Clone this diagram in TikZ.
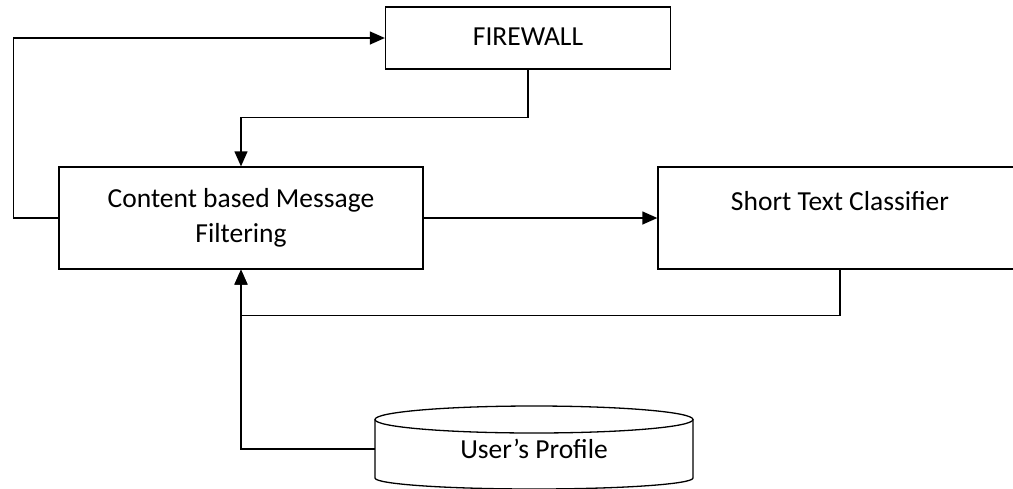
\documentclass[tikz,border=0pt]{standalone}
\usepackage{fontspec}
\setmainfont{Carlito}
\usetikzlibrary{arrows.meta,calc}
\begin{document}
\begin{tikzpicture}[x=1pt,y=1pt,
  every node/.style={font=\fontsize{27.5}{35}\selectfont},
  box/.style={draw,line width=1.3pt,rectangle,inner sep=0pt,align=center},
  conn/.style={line width=1.3pt},
  arr/.style={conn,-{Triangle[length=15pt,width=13pt]}}]
\useasboundingbox (0,0) rectangle (1013,-488);
\node[box,minimum width=285pt,minimum height=62pt] (fw) at (528,-38) {\raisebox{3pt}{FIREWALL}};
\node[box,minimum width=364pt,minimum height=102pt] (cbm) at (241,-218) {Content based Message\\Filtering};
\node[box,minimum width=364pt,minimum height=102pt] (stc) at (840,-218) {Short Text Classifier\\\mbox{}};
% cylinder
\draw[line width=1.3pt,fill=white] (375,-419.5) -- (375,-478) arc[start angle=180,end angle=360,x radius=159,y radius=11] -- (693,-419.5);
\draw[line width=1.3pt] (534,-419.5) ellipse[x radius=159,y radius=13.5];
\node[inner sep=0pt,minimum width=318pt,minimum height=58pt] (up) at (534,-449) {\raisebox{-4pt}{User's Profile}};
% connectors
\draw[arr] (cbm.west) -- ++(-45,0) |- (fw.west);
\draw[arr] (fw.south) -- ++(0,-48) -| (cbm.north);
\draw[arr] (cbm.east) -- (stc.west);
\draw[arr] (stc.south) -- ++(0,-46) -| (cbm.south);
\draw[arr] (up.west) -| (cbm.south);
\end{tikzpicture}
\end{document}
